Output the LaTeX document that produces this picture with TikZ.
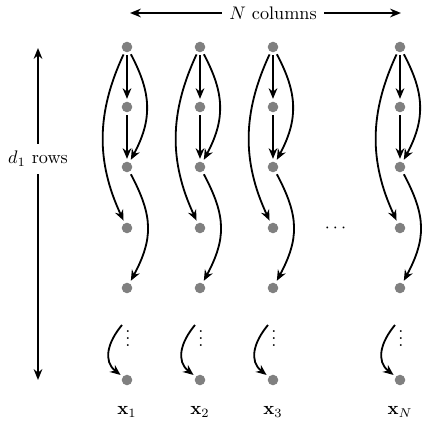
\documentclass[tikz,border=0pt]{standalone}
\usepackage{amsmath,amssymb}
\usepackage{xcolor}
\usepackage{tikz}
\usetikzlibrary{arrows.meta,positioning}
\definecolor{dotgray}{RGB}{128,128,128}

\tikzset{
  var/.style={circle,fill=dotgray,minimum size=5.8pt,inner sep=0pt,outer sep=1.6pt},
  edge/.style={line width=1pt,-{Stealth[length=5.8pt,width=4.8pt]}},
  axis/.style={line width=1pt,-{Stealth[length=6pt,width=4.8pt]}},
}

\begin{document}
\begin{tikzpicture}[x=0.55pt,y=-0.55pt]
			\useasboundingbox (0,0) rectangle (422,425);
			
			% axis columns
			\coordinate (colL) at (130,13);
			\coordinate (colR) at (401,13);
			\node[fill=white,inner sep=4pt] (ncol) at (273,13) {$N$ columns};
			\draw[axis] (ncol) -- (colL);
			\draw[axis] (ncol) -- (colR);
			
			% axis rows
			\coordinate (rowT) at (38,48);
			\coordinate (rowB) at (38,380);
			\node[fill=white,inner sep=4pt] (nrow) at (38,159) {$d_1$ rows};
			\draw[axis] (nrow) -- (rowT);
			\draw[axis] (nrow) -- (rowB);
			
			% variables, one column each
			\foreach \c/\x in {1/127,2/200,3/273,N/400}{
				\foreach \r/\y in {0/47,1/107,2/167,3/228,4/288}
					\node[var] (v\c\r) at (\x,\y) {};
				\node[var] (v\c L) at (\x,380) {};
				\node[inner sep=0pt] (vd\c) at (\x+1,333) {$\vdots$};
				\coordinate (s\c) at (\x-5,325);
				\node (lab\c) at (\x,412) {$\mathbf{x}_{\c}$};
				
				\draw[edge] (v\c0) -- (v\c1);
				\draw[edge] (v\c1) -- (v\c2);
				\draw[edge] (v\c0) to[out=-62,in=62,looseness=1.1] (v\c2);
				\draw[edge] (v\c0) to[out=-115,in=115] (v\c3);
				\draw[edge] (v\c2) to[out=-62,in=62,looseness=1.15] (v\c4);
				\draw[edge] (s\c) to[out=-130,in=142,looseness=1.15] (v\c L);
			}
			
			\node (hdots) at (337,228) {$\cdots$};
		\end{tikzpicture}
\end{document}
